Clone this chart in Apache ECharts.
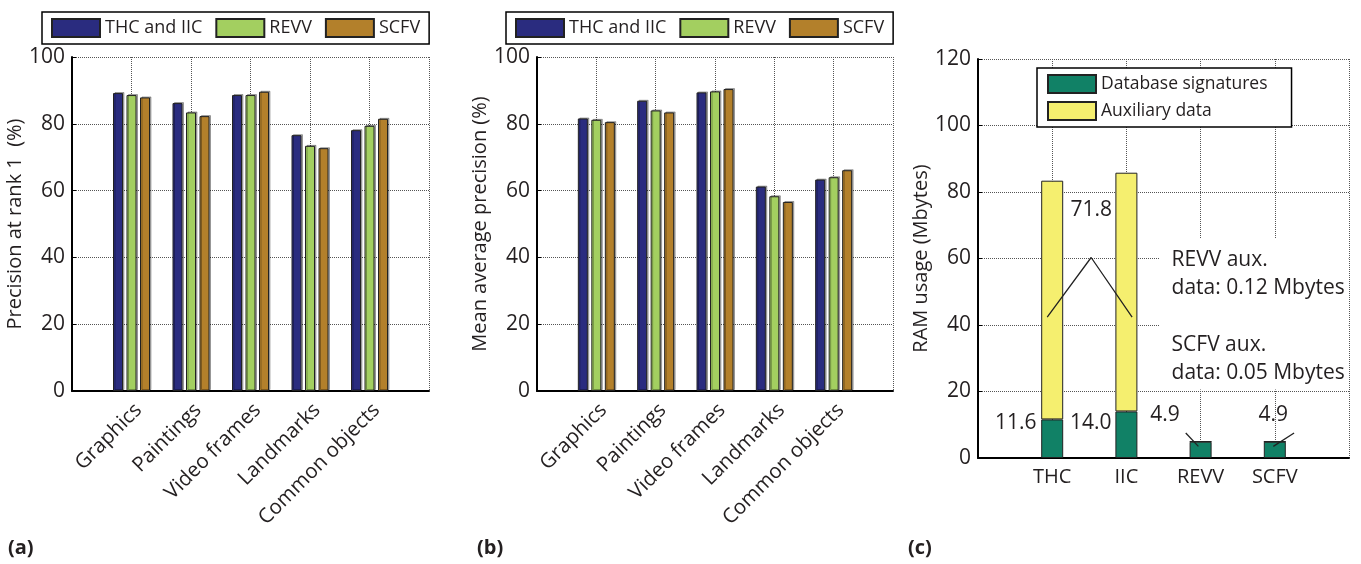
<!DOCTYPE html>
<html><head><meta charset="utf-8">
<script src="https://cdn.jsdelivr.net/npm/echarts@6/dist/echarts.min.js"></script>
<style>html,body{margin:0;padding:0;background:#fff}#c{width:1361px;height:564px}</style>
</head><body><div id="c"></div>
<script>
const categories = ['Graphics', 'Paintings', 'Video frames', 'Landmarks', 'Common objects'];
const methodNames = ['THC and IIC', 'REVV', 'SCFV'];
const precisionThcIic = [89.2, 86.2, 88.6, 76.6, 78.1];
const precisionRevv   = [88.6, 83.4, 88.6, 73.4, 79.4];
const precisionScfv   = [87.9, 82.3, 89.6, 72.7, 81.5];
const mapThcIic = [81.6, 86.9, 89.4, 61.2, 63.3];
const mapRevv   = [81.2, 84.0, 89.7, 58.3, 64.0];
const mapScfv   = [80.5, 83.4, 90.4, 56.6, 66.1];
const ramMethods = ['THC', 'IIC', 'REVV', 'SCFV'];
const ramPartNames = ['Database signatures', 'Auxiliary data'];
const ramSignatures = [11.6, 14.0, 4.9, 4.9];
const ramAuxiliary  = [71.8, 71.8, 0.12, 0.05];

const FONT = 'Open Sans';
const TXT = '#231f20';
const colors = ['#2a2c7f', '#a3cf60', '#b3802b'];
const ramColors = ['#118166', '#f5ef6f'];

const pad = a => [null, ...a, null];
const padCat = a => ['', ...a, ''];

function catAxis(gi, cats, rotated) {
  const label = rotated
    ? {interval: 0, rotate: 45, margin: 23, padding: [0, -10, 0, 0], color: TXT, fontFamily: FONT, fontSize: 20.5}
    : {interval: 0, rotate: 0, margin: 9, color: TXT, fontFamily: FONT, fontSize: 20};
  return {
    type: 'category', gridIndex: gi, data: padCat(cats), boundaryGap: false,
    axisLine: {lineStyle: {color: '#000', width: 2}},
    axisTick: {show: false},
    axisLabel: label,
    splitLine: {show: true, interval: 0, lineStyle: {color: '#555', type: 'dotted', width: 1}}
  };
}
function valAxis(gi, max, name, gap) {
  return {
    type: 'value', gridIndex: gi, min: 0, max: max, interval: 20,
    name: name, nameLocation: 'middle', nameGap: gap,
    nameTextStyle: {color: TXT, fontFamily: FONT, fontSize: 20},
    axisLine: {show: true, lineStyle: {color: '#000', width: 2}},
    axisTick: {show: true, inside: true, length: 4, lineStyle: {color: '#000'}},
    axisLabel: {color: TXT, fontFamily: FONT, fontSize: 21, margin: 7},
    splitLine: {show: true, lineStyle: {color: '#555', type: 'dotted', width: 1}}
  };
}
function barSeries(name, data, gi, ci) {
  return {
    type: 'bar', name: name, xAxisIndex: gi, yAxisIndex: gi, data: pad(data),
    barWidth: 10, barGap: '35%',
    itemStyle: {color: colors[ci], borderColor: '#222', borderWidth: 1,
      shadowColor: 'rgba(0,0,0,0.3)', shadowOffsetX: 1.5, shadowOffsetY: -1, shadowBlur: 0}
  };
}
const legendBase = {
  icon: 'rect', itemWidth: 48, itemHeight: 18, itemGap: 13,
  borderColor: '#000', borderWidth: 1.5, backgroundColor: '#fff',
  textStyle: {color: TXT, fontFamily: FONT, fontSize: 18}
};
const lineStyleAnn = {color: '#222', width: 1.3};
function leader(points) {
  return {type: 'line', xAxisIndex: 3, yAxisIndex: 2, data: points, symbol: 'none',
    lineStyle: lineStyleAnn, silent: true, z: 5, animation: false};
}
const annLabel = {show: true, position: 'inside', color: TXT, fontFamily: FONT, fontSize: 21, opacity: 1};

const chart = echarts.init(document.getElementById('c'), null, {renderer: 'canvas'});
chart.setOption({
  animation: false,
  backgroundColor: '#fff',
  grid: [
    {left: 72, top: 57, width: 357, height: 334},
    {left: 537, top: 57, width: 356, height: 334},
    {left: 978, top: 59, width: 371, height: 399}
  ],
  legend: [
    Object.assign({}, legendBase, {data: methodNames, left: 42, top: 12, padding: [6, 9, 6, 9]}),
    Object.assign({}, legendBase, {data: methodNames, left: 506, top: 12, padding: [6, 9, 6, 9]}),
    Object.assign({}, legendBase, {data: ramPartNames, orient: 'vertical', itemGap: 7, left: 1037, top: 68,
      padding: [6, 24, 6, 10], textStyle: {color: TXT, fontFamily: FONT, fontSize: 17.5}})
  ],
  xAxis: [
    catAxis(0, categories, true),
    catAxis(1, categories, true),
    catAxis(2, ramMethods, false),
    {type: 'value', gridIndex: 2, min: 0, max: 5, show: false}
  ],
  yAxis: [
    valAxis(0, 100, 'Precision at rank 1  (%)', 43),
    valAxis(1, 100, 'Mean average precision (%)', 47),
    valAxis(2, 120, 'RAM usage (Mbytes)', 44)
  ],
  series: [
    barSeries(methodNames[0], precisionThcIic, 0, 0),
    barSeries(methodNames[1], precisionRevv, 0, 1),
    barSeries(methodNames[2], precisionScfv, 0, 2),
    barSeries(methodNames[0], mapThcIic, 1, 0),
    barSeries(methodNames[1], mapRevv, 1, 1),
    barSeries(methodNames[2], mapScfv, 1, 2),
    {type: 'bar', name: ramPartNames[0], xAxisIndex: 2, yAxisIndex: 2, stack: 'ram', barWidth: 22,
      data: pad(ramSignatures), itemStyle: {color: ramColors[0], borderColor: '#222', borderWidth: 1}},
    {type: 'bar', name: ramPartNames[1], xAxisIndex: 2, yAxisIndex: 2, stack: 'ram', barWidth: 22,
      data: pad(ramAuxiliary), itemStyle: {color: ramColors[1], borderColor: '#222', borderWidth: 1}},
    leader([[0.933, 42.4], [1.525, 60.3], [2.077, 42.4]]),
    leader([[2.80, 7.5], [2.97, 3.5]]),
    leader([[4.26, 7.5], [3.98, 3.5]]),
    {
      type: 'scatter', xAxisIndex: 3, yAxisIndex: 2, symbolSize: 0, silent: true, z: 6,
      itemStyle: {opacity: 1},
      label: annLabel,
      data: [
        {value: [0.79, 10.5], label: {align: 'right', formatter: () => ramSignatures[0].toFixed(1)}},
        {value: [1.80, 10.5], label: {align: 'right', formatter: () => ramSignatures[1].toFixed(1)}},
        {value: [2.52, 13.0], label: {formatter: () => ramSignatures[2].toFixed(1)}},
        {value: [3.98, 13.0], label: {formatter: () => ramSignatures[3].toFixed(1)}},
        {value: [1.525, 74.5], label: {formatter: () => ramAuxiliary[0].toFixed(1)}},
        {value: [2.447, 66.2], label: {align: 'left', verticalAlign: 'top', lineHeight: 28.3,
          backgroundColor: '#fff', padding: [8, 4, 2, 12],
          formatter: () => ramMethods[2] + ' aux.\ndata: ' + ramAuxiliary[2].toFixed(2) + ' Mbytes\n\n' +
                           ramMethods[3] + ' aux.\ndata: ' + ramAuxiliary[3].toFixed(2) + ' Mbytes'}}
      ]
    }
  ],
  graphic: [
    {type: 'text', left: 8, top: 538, style: {text: '(a)', fontFamily: FONT, fontWeight: 'bold', fontSize: 20, fill: TXT}},
    {type: 'text', left: 477, top: 538, style: {text: '(b)', fontFamily: FONT, fontWeight: 'bold', fontSize: 20, fill: TXT}},
    {type: 'text', left: 908, top: 538, style: {text: '(c)', fontFamily: FONT, fontWeight: 'bold', fontSize: 20, fill: TXT}}
  ]
});
</script></body></html>
